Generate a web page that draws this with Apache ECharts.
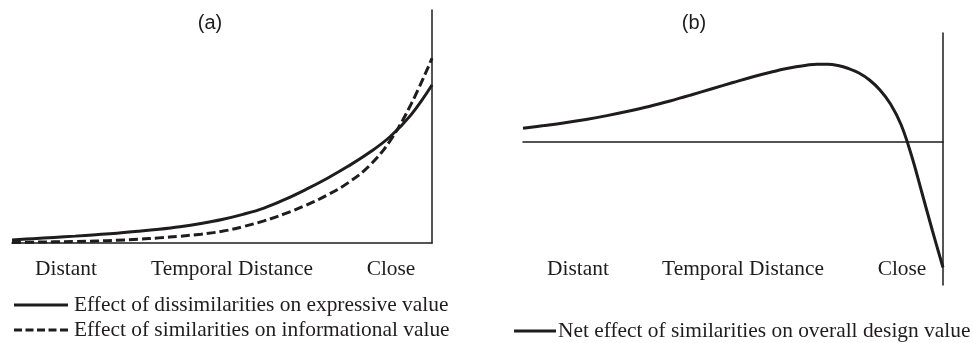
<!DOCTYPE html>
<html>
<head>
<meta charset="utf-8">
<script src="https://cdn.jsdelivr.net/npm/echarts@6/dist/echarts.min.js"></script>
<style>
html,body{margin:0;padding:0;background:#fff;}
#c{width:973px;height:343px;}
</style>
</head>
<body>
<div id="c"></div>
<script>
// Panel (a): temporal distance (0 = distant, 100 = close)
var xA = [0, 5, 10, 15, 20, 25, 30, 35, 40, 45, 50, 55, 60, 65, 70, 75, 80, 85, 90, 95, 100];
var expressiveA = [1.3, 1.85, 2.4, 2.95, 3.55, 4.2, 5.0, 5.9, 7.0, 8.4, 10.1, 12.3, 15.0, 18.7, 23.0, 27.7, 32.9, 38.7, 45.6, 55.0, 67.8];
var informationalA = [0.2, 0.35, 0.5, 0.65, 0.85, 1.15, 1.6, 2.2, 2.9, 3.8, 5.0, 7.0, 9.5, 12.6, 16.2, 20.5, 25.8, 33.0, 43.8, 59.5, 79.3];
// Panel (b)
var xB = [0, 5, 10, 15, 20, 25, 30, 35, 40, 45, 50, 55, 60, 62.5, 65, 67.5, 70, 72.5, 75, 77.5, 80, 82.5, 85, 87.5, 90, 92.5, 95, 97.5, 100];
var netB = [13.7, 16.4, 19.3, 22.6, 26.4, 30.7, 35.5, 41.0, 47.0, 53.3, 59.5, 65.5, 70.8, 73.2, 75.2, 76.8, 77.8, 77.8, 76.5, 73.5, 69, 62, 52, 38, 17.5, -13.5, -51, -89, -125.5];
// Texts
var panelTitles = ['(a)', '(b)'];
var axisLabels = ['Distant', 'Temporal Distance', 'Close'];
var seriesNames = [
  'Effect of dissimilarities on expressive value',
  'Effect of similarities on informational value',
  'Net effect of similarities on overall design value'
];

function pairs(xs, ys) { return xs.map(function (x, i) { return [x, ys[i]]; }); }

var SERIF = '"Liberation Serif", "Times New Roman", serif';
var SANS = '"Liberation Sans", Arial, sans-serif';
var INK = '#1e1c1c';
var DASH = [9, 4];
var FS = 21.4;

function xAxisCfg(gi) {
  return { type: 'value', gridIndex: gi, min: 0, max: 100,
    axisLine: { show: true, onZero: true, lineStyle: { color: INK, width: 1.5 } },
    axisTick: { show: false }, axisLabel: { show: false }, splitLine: { show: false } };
}
function yAxisCfg(gi, mn, mx) {
  return { type: 'value', gridIndex: gi, min: mn, max: mx, position: 'right',
    axisLine: { show: true, onZero: false, lineStyle: { color: INK, width: 1.5 } },
    axisTick: { show: false }, axisLabel: { show: false }, splitLine: { show: false } };
}

function label(text, x, y, font, size, align) {
  return { type: 'text', silent: true, style: { text: text, x: x, y: y, fill: INK, font: size + 'px ' + font,
    textAlign: align || 'center', textVerticalAlign: 'middle' } };
}
function legendItem(text, x1, x2, y, gap, dash) {
  return [
    { type: 'line', silent: true, shape: { x1: x1, y1: y, x2: x2, y2: y },
      style: { stroke: INK, lineWidth: 3, lineDash: dash || null } },
    label(text, x2 + gap, y, SERIF, FS, 'left')
  ];
}

var labelXA = [66, 232, 391];
var labelXB = [578, 743, 902];

var graphics = [
  label(panelTitles[0], 210, 23, SANS, 20),
  label(panelTitles[1], 694, 23, SANS, 20)
];
axisLabels.forEach(function (t, i) {
  graphics.push(label(t, labelXA[i], 269, SERIF, FS));
  graphics.push(label(t, labelXB[i], 269, SERIF, FS));
});
graphics = graphics
  .concat(legendItem(seriesNames[0], 14, 68, 305, 6))
  .concat(legendItem(seriesNames[1], 14, 68, 330, 6, [8, 3.5]))
  .concat(legendItem(seriesNames[2], 514, 556, 331, 2));

var chart = echarts.init(document.getElementById('c'), null, { renderer: 'canvas' });
chart.setOption({
  animation: false,
  backgroundColor: '#fff',
  grid: [
    { left: 12, right: 541, top: 10, bottom: 100 },
    { left: 523, right: 30, top: 33, bottom: 58 }
  ],
  xAxis: [xAxisCfg(0), xAxisCfg(1)],
  yAxis: [yAxisCfg(0, 0, 100), yAxisCfg(1, -143, 109)],
  graphic: graphics,
  series: [
    { name: seriesNames[0], type: 'line', xAxisIndex: 0, yAxisIndex: 0, data: pairs(xA, expressiveA),
      smooth: 0.4, symbol: 'none', lineStyle: { color: INK, width: 3 } },
    { name: seriesNames[1], type: 'line', xAxisIndex: 0, yAxisIndex: 0, data: pairs(xA, informationalA),
      smooth: 0.4, symbol: 'none', lineStyle: { color: INK, width: 3, type: DASH } },
    { name: seriesNames[2], type: 'line', xAxisIndex: 1, yAxisIndex: 1, data: pairs(xB, netB),
      smooth: 0.4, symbol: 'none', lineStyle: { color: INK, width: 3 } }
  ]
});
</script>
</body>
</html>
